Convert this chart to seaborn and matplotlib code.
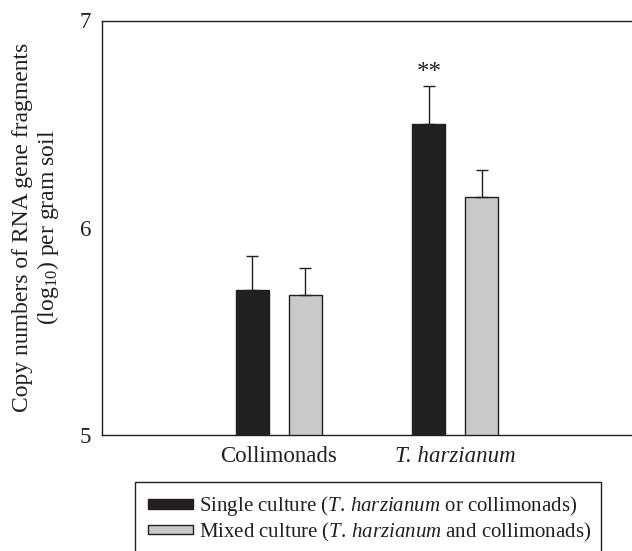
import matplotlib
matplotlib.use("Agg")
import matplotlib.pyplot as plt
import seaborn as sns
import pandas as pd
from matplotlib.patches import Patch

categories = ["Collimonads", "T. harzianum"]
series = ["Single", "Mixed"]
single_vals = [5.70, 6.50]
mixed_vals = [5.675, 6.15]
single_err = [0.166, 0.185]
mixed_err = [0.129, 0.127]
legend_labels = [
    r"Single culture ($\mathit{T.\,harzianum}$ or collimonads)",
    r"Mixed culture ($\mathit{T.\,harzianum}$ and collimonads)",
]
yticks = [5, 6, 7]

sns.set_theme(style="white")
plt.rcParams["font.family"] = ["Liberation Serif", "DejaVu Serif"]
plt.rcParams["mathtext.fontset"] = "custom"
plt.rcParams["mathtext.rm"] = "Liberation Serif"
plt.rcParams["mathtext.it"] = "Liberation Serif:italic"

df = pd.DataFrame({
    "category": categories * 2,
    "series": [series[0]] * 2 + [series[1]] * 2,
    "value": single_vals + mixed_vals,
    "err": single_err + mixed_err,
})

fig = plt.figure(figsize=(6.32, 5.51), dpi=100)
ax = fig.add_axes([102 / 632, 116 / 551, 1 - 102 / 632, 414.5 / 551])

colors = ["#231f20", "#c8c9cb"]
sns.barplot(data=df, x="category", y="value", hue="series", order=categories,
            hue_order=series, palette=colors, width=0.6, gap=0.38,
            edgecolor="#231f20", linewidth=1.0, errorbar=None, ax=ax,
            legend=False)

# error bars (upper only), placed at bar centres
for container, s in zip(ax.containers, series):
    sub = df[df["series"] == s].set_index("category").loc[categories]
    for bar, (v, e) in zip(container, zip(sub["value"], sub["err"])):
        xc = bar.get_x() + bar.get_width() / 2
        ax.errorbar(xc, v, yerr=[[0], [e]], fmt="none", ecolor="#231f20",
                    elinewidth=1.0, capsize=4.3, capthick=1.0, zorder=1)

# significance marker above T. harzianum single culture
sb = ax.containers[0][1]
ax.text(sb.get_x() + sb.get_width() / 2, single_vals[1] + single_err[1] + 0.06,
        "**", ha="center", va="center", fontsize=18, color="#231f20")

ax.set_xlim(-1.0, 2.0)
ax.set_ylim(5, 7)
ax.set_yticks(yticks)
ax.set_yticklabels([str(t) for t in yticks])
ax.set_xlabel("")
ax.set_ylabel("")
ax.tick_params(axis="both", direction="out", length=4, width=1,
               color="#231f20", labelsize=16.5, labelcolor="#231f20", pad=4)
for lbl in ax.get_xticklabels():
    if lbl.get_text().startswith("T."):
        lbl.set_fontstyle("italic")

for side in ["left", "bottom", "top"]:
    ax.spines[side].set_visible(True)
    ax.spines[side].set_color("#231f20")
    ax.spines[side].set_linewidth(1.0)
ax.spines["right"].set_visible(False)

fig.text(36.5 / 632, 1 - 227.75 / 551,
         "Copy numbers of RNA gene fragments\n(log$_{10}$) per gram soil",
         rotation=90, ha="center", va="center", multialignment="center",
         fontsize=17, color="#231f20", linespacing=1.15)

handles = [Patch(facecolor=c, edgecolor="#231f20", linewidth=1.0) for c in colors]
leg = fig.legend(handles, legend_labels, loc="upper left",
                 bbox_to_anchor=(135 / 632, 1 - 482 / 551, (601 - 135) / 632, 0.0),
                 mode="expand", borderaxespad=0, fontsize=15,
                 handlelength=2.2, handleheight=0.33, handletextpad=0.25,
                 labelspacing=0.1, borderpad=0.6, fancybox=False,
                 framealpha=1, edgecolor="#231f20")
leg.get_frame().set_linewidth(1.0)
for t in leg.get_texts():
    t.set_color("#231f20")

fig.savefig("out.png", dpi=100)
